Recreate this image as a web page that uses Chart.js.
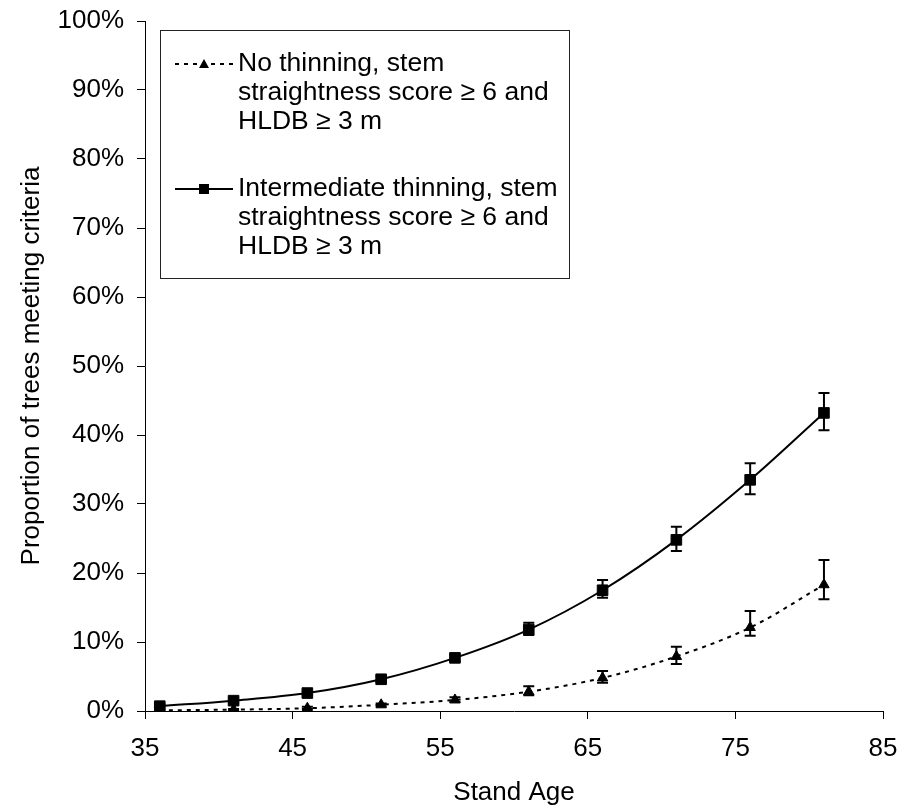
<!DOCTYPE html>
<html>
<head>
<meta charset="utf-8">
<script src="https://cdn.jsdelivr.net/npm/chart.js@4.4.1/dist/chart.umd.min.js"></script>
<style>
  html, body { margin: 0; padding: 0; background: #fff; }
  #wrap { width: 909px; height: 808px; position: relative; }
</style>
</head>
<body>
<div id="wrap"><canvas id="c" width="909" height="808"></canvas></div>
<script>
// ---- data ----
const standAge = [36, 41, 46, 51, 56, 61, 66, 71, 76, 81];

const noThinning      = [0.1, 0.2, 0.4, 0.9, 1.6, 2.8, 4.8, 7.9, 12.1, 18.3];
const noThinningHigh  = [0.2, 0.3, 0.6, 1.1, 2.0, 3.6, 5.8, 9.3, 14.5, 21.9];
const noThinningLow   = [0.05, 0.1, 0.3, 0.7, 1.3, 2.3, 4.1, 6.8, 10.9, 16.2];

const intermediate     = [0.7, 1.5, 2.6, 4.6, 7.7, 11.8, 17.5, 24.8, 33.5, 43.2];
const intermediateHigh = [1.0, 1.8, 2.9, 5.0, 8.2, 12.8, 19.0, 26.7, 35.9, 46.1];
const intermediateLow  = [0.5, 1.2, 2.3, 4.2, 7.2, 11.0, 16.4, 23.2, 31.4, 40.7];

const labelNoThinning = ["No thinning, stem", "straightness score \u2265 6 and", "HLDB \u2265 3 m"];
const labelIntermediate = ["Intermediate thinning, stem", "straightness score \u2265 6 and", "HLDB \u2265 3 m"];

const xTitle = "Stand Age";
const yTitle = "Proportion of trees meeting criteria";

const FONT = "'Liberation Sans', Arial, Helvetica, sans-serif";

function pts(xs, ys) { return xs.map((x, i) => ({ x: x, y: ys[i] })); }

// ---- error bars plugin ----
const errorBars = {
  id: 'errorBars',
  afterDatasetsDraw(chart) {
    const ctx = chart.ctx, xs = chart.scales.x, ys = chart.scales.y;
    chart.data.datasets.forEach((ds) => {
      if (!ds.errHigh) return;
      ctx.save();
      ctx.strokeStyle = '#000';
      ctx.lineWidth = 2;
      ds.data.forEach((p, i) => {
        const px = xs.getPixelForValue(p.x);
        const yh = ys.getPixelForValue(ds.errHigh[i]);
        const yl = ys.getPixelForValue(ds.errLow[i]);
        const cap = 5.5;
        ctx.beginPath();
        ctx.moveTo(px, yh); ctx.lineTo(px, yl);
        ctx.moveTo(px - cap, yh); ctx.lineTo(px + cap, yh);
        ctx.moveTo(px - cap, yl); ctx.lineTo(px + cap, yl);
        ctx.stroke();
      });
      ctx.restore();
    });
  }
};

// ---- legend box plugin ----
const boxLegend = {
  id: 'boxLegend',
  afterDraw(chart) {
    const ctx = chart.ctx;
    const bx = 160.5, by = 30.5, bw = 409, bh = 248;
    ctx.save();
    ctx.fillStyle = '#fff';
    ctx.fillRect(bx, by, bw, bh);
    ctx.strokeStyle = '#222';
    ctx.lineWidth = 1;
    ctx.strokeRect(bx, by, bw, bh);
    const rowsY = [64, 189];
    const lineH = 28.7;
    chart.data.datasets.forEach((ds, di) => {
      const y0 = rowsY[di];
      // sample line
      ctx.save();
      ctx.strokeStyle = '#000';
      ctx.lineWidth = ds.borderWidth;
      ctx.setLineDash(ds.borderDash || []);
      ctx.beginPath();
      ctx.moveTo(175, y0); ctx.lineTo(233, y0);
      ctx.stroke();
      ctx.restore();
      // marker
      ctx.fillStyle = '#000';
      const mx = 204;
      if (ds.pointStyle === 'rect') {
        ctx.fillRect(mx - 5, y0 - 5, 10, 10);
      } else {
        ctx.beginPath();
        ctx.moveTo(mx, y0 - 5);
        ctx.lineTo(mx + 5, y0 + 4);
        ctx.lineTo(mx - 5, y0 + 4);
        ctx.closePath();
        ctx.fill();
      }
      // text
      ctx.font = '26.5px ' + FONT;
      ctx.textBaseline = 'middle';
      ctx.textAlign = 'left';
      ds.legendLines.forEach((t, li) => {
        ctx.fillText(t, 238, y0 + li * lineH);
      });
    });
    ctx.restore();
  }
};

new Chart(document.getElementById('c'), {
  type: 'line',
  data: {
    datasets: [
      {
        label: labelNoThinning.join(' '),
        legendLines: labelNoThinning,
        data: pts(standAge, noThinning),
        errHigh: noThinningHigh,
        errLow: noThinningLow,
        borderColor: '#000',
        backgroundColor: '#000',
        borderWidth: 2,
        borderDash: [4, 5],
        pointStyle: 'triangle',
        pointRadius: 6,
        pointBorderWidth: 1,
        tension: 0.35,
        fill: false
      },
      {
        label: labelIntermediate.join(' '),
        legendLines: labelIntermediate,
        data: pts(standAge, intermediate),
        errHigh: intermediateHigh,
        errLow: intermediateLow,
        borderColor: '#000',
        backgroundColor: '#000',
        borderWidth: 2,
        pointStyle: 'rect',
        pointRadius: 7.5,
        pointBorderWidth: 1,
        tension: 0.35,
        fill: false
      }
    ]
  },
  options: {
    responsive: false,
    animation: false,
    layout: { padding: { top: 21, right: 26, left: 0, bottom: 0 } },
    plugins: { legend: { display: false }, tooltip: { enabled: false } },
    scales: {
      x: {
        type: 'linear',
        min: 35, max: 85,
        afterFit(s) { s.height = 97; s.paddingLeft = 0; s.paddingRight = 0; },
        border: { color: '#000', width: 1 },
        grid: { display: true, drawOnChartArea: false, tickLength: 8, color: '#000', lineWidth: 1 },
        ticks: { stepSize: 10, color: '#000', padding: 14, maxRotation: 0, font: { size: 26, family: FONT } },
        title: { display: true, text: xTitle, color: '#000', padding: { top: 0, bottom: 0 }, font: { size: 26, family: FONT } }
      },
      y: {
        min: 0, max: 100,
        afterFit(s) { s.width = 145; s.paddingTop = 0; s.paddingBottom = 0; },
        border: { color: '#000', width: 1 },
        grid: { display: true, drawOnChartArea: false, tickLength: 8, color: '#000', lineWidth: 1 },
        ticks: { stepSize: 10, color: '#000', padding: 13, font: { size: 26, family: FONT }, callback: (v) => v + '%' },
        title: { display: true, text: yTitle, color: '#000', padding: { top: 16, bottom: 0 }, font: { size: 26, family: FONT } }
      }
    }
  },
  plugins: [errorBars, boxLegend]
});
</script>
</body>
</html>
